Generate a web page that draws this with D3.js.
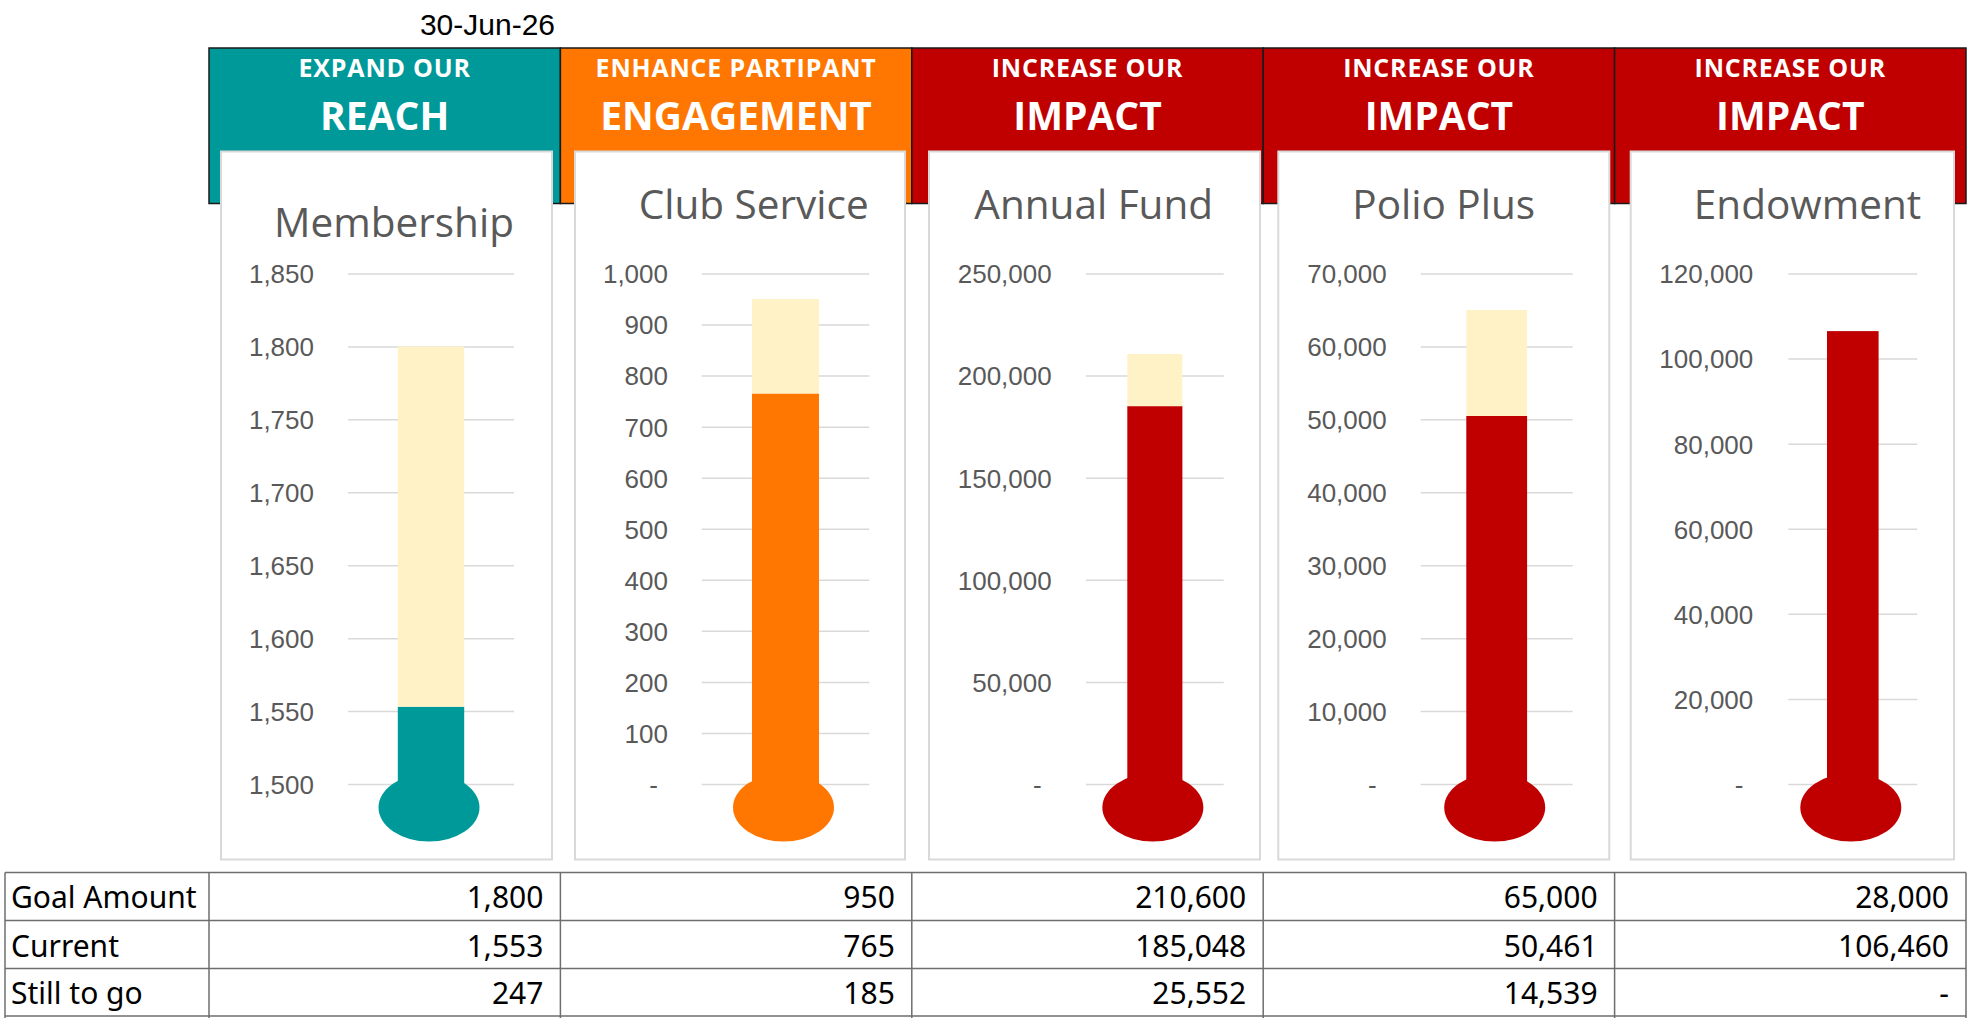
<!DOCTYPE html>
<html>
<head>
<meta charset="utf-8">
<script src="https://cdn.jsdelivr.net/npm/d3@7"></script>
<style>
  html, body { margin: 0; padding: 0; background: #ffffff; }
  svg { display: block; }
</style>
</head>
<body>
<script>
// ---------------- DATA ----------------
const dateLabel = "30-Jun-26";
const categories = ["Membership", "Club Service", "Annual Fund", "Polio Plus", "Endowment"];
const pillarTop = ["EXPAND OUR", "ENHANCE PARTIPANT", "INCREASE OUR", "INCREASE OUR", "INCREASE OUR"];
const pillarMain = ["REACH", "ENGAGEMENT", "IMPACT", "IMPACT", "IMPACT"];
const goalValues = [1800, 950, 210600, 65000, 28000];
const currentValues = [1553, 765, 185048, 50461, 106460];
const stillToGoValues = [247, 185, 25552, 14539, 0];
const axisMin = [1500, 0, 0, 0, 0];
const axisMax = [1850, 1000, 250000, 70000, 120000];
const tickValues = [
  [1500, 1550, 1600, 1650, 1700, 1750, 1800, 1850],
  [0, 100, 200, 300, 400, 500, 600, 700, 800, 900, 1000],
  [0, 50000, 100000, 150000, 200000, 250000],
  [0, 10000, 20000, 30000, 40000, 50000, 60000, 70000],
  [0, 20000, 40000, 60000, 80000, 100000, 120000]
];
const rowLabels = ["Goal Amount", "Current", "Still to go"];

// ---------------- STYLE / LAYOUT ----------------
const pillarColors = ["#009999", "#FF7700", "#C00000", "#C00000", "#C00000"];
const remainColor = "#FFF2C6";
const W = 1980, H = 1018;
const colEdges = [209, 560.4, 911.8, 1263.2, 1614.6, 1966];
const tableLeft = 5;
const headerTop = 48, headerBottom = 203.5;
const cardTop = 151.5, cardBottom = 859.5;
const plotTop = 273.5, plotBottom = 784;
// per-card geometry [cardLeft, cardRight, gridLeft, gridRight, labelRight, titleX, titleY]
const cardLayout = [
  [221, 552, 348, 514, 314, 394, 237],
  [575, 905, 701.7, 869.3, 668, 753.7, 219],
  [929, 1260, 1086, 1223.7, 1051.7, 1093.7, 219],
  [1278.3, 1609.3, 1420.7, 1572.7, 1386.7, 1443.7, 219],
  [1630.7, 1954, 1788.3, 1917.3, 1753.3, 1807.5, 219]
];
const rowTops = [872.5, 920.5, 968.5, 1016];

const svg = d3.select("body").append("svg")
  .attr("width", W).attr("height", H)
  .attr("viewBox", `0 0 ${W} ${H}`);

// date
svg.append("text")
  .attr("x", 555).attr("y", 35)
  .attr("text-anchor", "end")
  .attr("font-family", "'Liberation Sans', Arial, sans-serif")
  .attr("font-size", 30)
  .attr("fill", "#000")
  .text(dateLabel);

// headers
const colX = d3.scaleBand().domain(categories).range([colEdges[0], colEdges[5]]).padding(0);

categories.forEach((c, i) => {
  const x0 = colX(c), bw = colX.bandwidth();
  svg.append("rect")
    .attr("x", x0).attr("y", headerTop)
    .attr("width", bw).attr("height", headerBottom - headerTop)
    .attr("fill", pillarColors[i])
    .attr("stroke", "#1a1a1a").attr("stroke-width", 1.5);
  svg.append("text")
    .attr("x", x0 + bw / 2).attr("y", 76.7)
    .attr("text-anchor", "middle")
    .attr("font-family", "'Open Sans', sans-serif")
    .attr("font-weight", 700)
    .attr("font-size", 25)
    .attr("letter-spacing", 0.8)
    .attr("fill", "#fff")
    .text(pillarTop[i]);
  svg.append("text")
    .attr("x", x0 + bw / 2).attr("y", 130)
    .attr("text-anchor", "middle")
    .attr("font-family", "'Open Sans', sans-serif")
    .attr("font-weight", 700)
    .attr("font-size", 39)
    .attr("fill", "#fff")
    .text(pillarMain[i]);
});

// cards
const fmt = d3.format(",");
categories.forEach((c, i) => {
  const [cl, cr, gl, gr, lr, tx, ty] = cardLayout[i];
  const g = svg.append("g");
  g.append("rect")
    .attr("x", cl).attr("y", cardTop)
    .attr("width", cr - cl).attr("height", cardBottom - cardTop)
    .attr("fill", "#fff")
    .attr("stroke", "#d9d9d9").attr("stroke-width", 2);

  g.append("text")
    .attr("x", tx).attr("y", ty)
    .attr("text-anchor", "middle")
    .attr("font-family", "'Open Sans', sans-serif")
    .attr("font-size", 40.5)
    .attr("fill", "#595959")
    .text(c);

  const y = d3.scaleLinear().domain([axisMin[i], axisMax[i]]).range([plotBottom, plotTop]);
  const x = d3.scaleBand().domain([c]).range([gl, gr]).paddingInner(0.6).paddingOuter(0.3);

  // gridlines
  const grid = g.append("g").attr("transform", `translate(${gl},0)`)
    .call(d3.axisLeft(y).tickValues(tickValues[i]).tickSize(-(gr - gl)).tickFormat(""));
  grid.select(".domain").remove();
  grid.selectAll(".tick line").attr("stroke", "#d9d9d9").attr("stroke-width", 1.5);

  // labels
  const lab = g.append("g").attr("transform", `translate(${lr},0)`)
    .call(d3.axisLeft(y).tickValues(tickValues[i]).tickSize(0).tickPadding(0)
      .tickFormat(d => d === 0 ? "-" : fmt(d)));
  lab.select(".domain").remove();
  lab.selectAll(".tick text")
    .attr("font-family", "'Liberation Sans', Arial, sans-serif")
    .attr("font-size", 26)
    .attr("fill", "#595959")
    .attr("dy", "0.36em")
    .attr("dx", d => d === 0 ? -10 : 0);

  // bars: current + still to go (stacked)
  const bx = x(c), bw = x.bandwidth();
  const cur = currentValues[i];
  const rem = Math.max(0, goalValues[i] - currentValues[i]);
  g.append("rect")
    .attr("x", bx).attr("width", bw)
    .attr("y", y(cur)).attr("height", y(axisMin[i]) - y(cur))
    .attr("fill", pillarColors[i]);
  if (rem > 0) {
    g.append("rect")
      .attr("x", bx).attr("width", bw)
      .attr("y", y(cur + rem)).attr("height", y(cur) - y(cur + rem))
      .attr("fill", remainColor);
  }
  // bulb
  g.append("ellipse")
    .attr("cx", bx + bw / 2 - 2)
    .attr("cy", y(axisMin[i]) + 23.5)
    .attr("rx", 50.5).attr("ry", 34)
    .attr("fill", pillarColors[i]);
});

// table
const tableRows = [goalValues, currentValues, stillToGoValues];
const lineColor = "#6e6e6e";
const tg = svg.append("g");
rowTops.forEach(yy => {
  tg.append("line")
    .attr("x1", tableLeft).attr("x2", colEdges[5])
    .attr("y1", yy).attr("y2", yy)
    .attr("stroke", lineColor).attr("stroke-width", 1.5);
});
[tableLeft].concat(colEdges).forEach(xx => {
  tg.append("line")
    .attr("x1", xx).attr("x2", xx)
    .attr("y1", rowTops[0]).attr("y2", H)
    .attr("stroke", lineColor).attr("stroke-width", 1.5);
});
const rowBase = [908, 956.5, 1004];
rowLabels.forEach((lbl, r) => {
  tg.append("text")
    .attr("x", 11).attr("y", rowBase[r])
    .attr("font-family", "'Noto Sans', sans-serif")
    .attr("font-size", 30)
    .attr("fill", "#000")
    .text(lbl);
  categories.forEach((c, i) => {
    const v = tableRows[r][i];
    tg.append("text")
      .attr("x", colX(c) + colX.bandwidth() - 17)
      .attr("y", rowBase[r])
      .attr("text-anchor", "end")
      .attr("font-family", "'Noto Sans', sans-serif")
      .attr("font-size", 30)
      .attr("fill", "#000")
      .text(v === 0 ? "-" : fmt(v));
  });
});
</script>
</body>
</html>
